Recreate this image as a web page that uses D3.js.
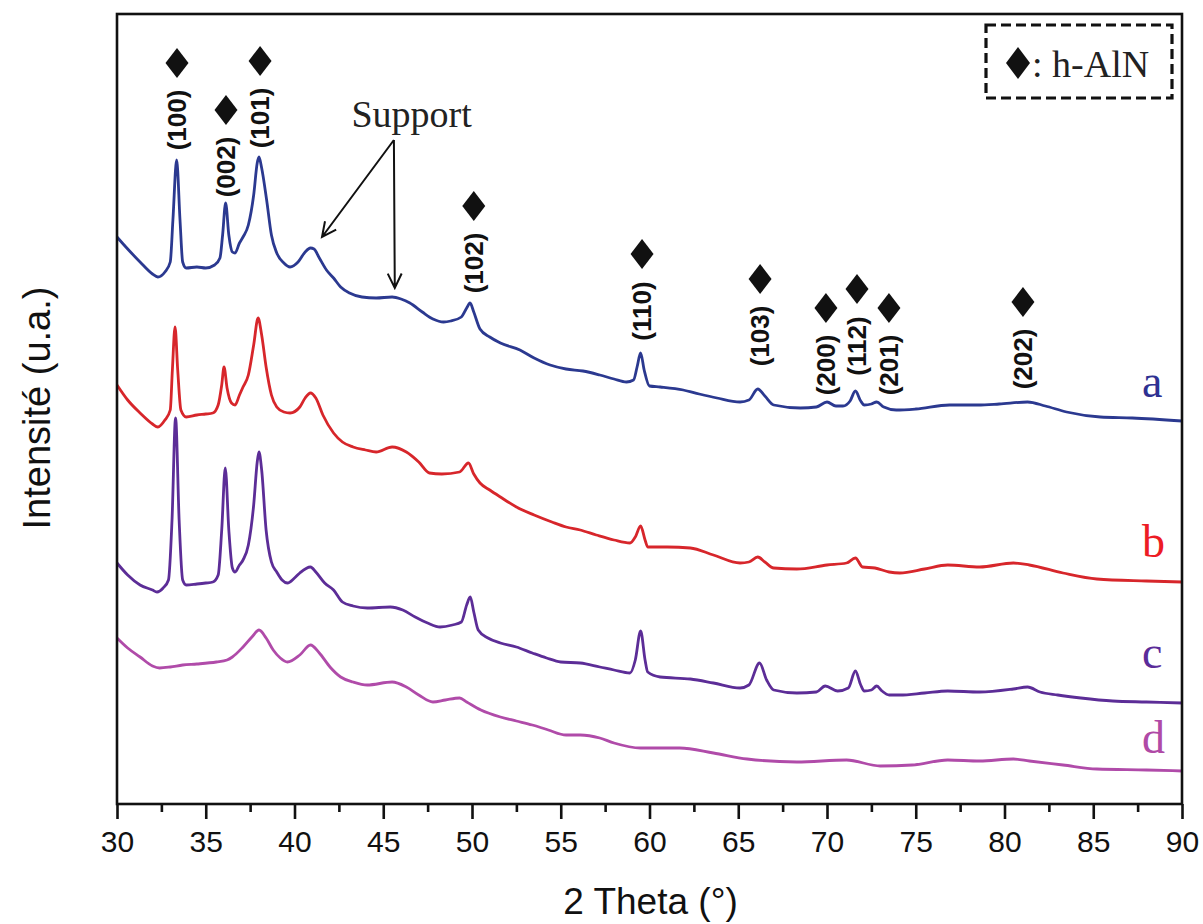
<!DOCTYPE html>
<html>
<head>
<meta charset="utf-8">
<script src="https://cdn.jsdelivr.net/npm/d3@7"></script>
<style>
  html, body { margin: 0; padding: 0; background: #fff; }
  svg { display: block; }
</style>
</head>
<body>
<svg id="chart" width="1203" height="924"></svg>
<script>
// ---------------- DATA (2θ in degrees, intensity in arbitrary units) ----------------
const xTicks = [30, 35, 40, 45, 50, 55, 60, 65, 70, 75, 80, 85, 90];
const xTitle = "2 Theta (°)";
const yTitle = "Intensité (u.a.)";

const seriesNames = ["a", "b", "c", "d"];

const seriesA = [
  [30.0,763],[30.5,753],[31.3,738],[32.0,726],[32.3,723],[32.7,728],[33.0,738],[33.15,780],[33.36,840],
  [33.55,780],[33.7,738],[33.9,732],[34.5,733],[35.0,732],[35.5,735],[35.8,742],[35.95,765],[36.12,797],
  [36.3,765],[36.5,748],[36.65,747],[36.9,757],[37.1,763],[37.4,775],[37.7,805],[37.9,837],[38.0,843],
  [38.15,832],[38.43,800],[38.7,765],[39.0,747],[39.4,737],[39.75,733],[40.2,738],[40.6,748],[40.9,752],
  [41.1,751],[41.4,742],[41.8,730],[42.2,722],[42.6,713],[43.1,707],[43.8,703],[44.6,702],[45.5,703],
  [46.0,701],[46.5,697],[47.2,688],[47.8,681],[48.4,678],[48.8,679],[49.4,683],[49.7,692],[49.89,697],
  [50.1,688],[50.45,671],[51.0,663],[51.6,657],[52.7,650],[53.5,642],[54.4,635],[55.3,631],[56.25,629],
  [57.2,625],[58.0,621],[58.7,618],[59.1,620],[59.3,633],[59.5,647],[59.7,630],[60.0,614],[60.6,613],
  [61.9,610],[62.8,606],[63.8,602],[65.1,598],[65.6,600],[66.1,611],[66.5,604],[67.0,595],[68.5,592],
  [69.4,593],[70.0,598],[70.5,594],[70.9,594],[71.3,599],[71.6,609],[71.9,599],[72.1,595],[72.5,596],
  [72.8,598],[73.2,593],[73.9,590],[75.0,591],[76.9,595],[78.5,595],[79.7,596],[81.3,598],[82.3,594],
  [83.5,588],[85.4,583],[87.2,582],[90.0,579]
];
const seriesB = [
  [30.0,615],[30.6,600],[31.3,587],[32.0,576],[32.3,573],[32.7,580],[33.0,590],[33.12,630],[33.27,673],
  [33.42,630],[33.6,590],[33.9,583],[34.5,585],[35.0,586],[35.4,587],[35.7,595],[35.9,615],[36.03,633],
  [36.2,612],[36.45,597],[36.65,595],[36.9,605],[37.1,613],[37.4,625],[37.7,655],[37.95,682],[38.15,665],
  [38.4,633],[38.7,605],[39.0,593],[39.4,588],[39.75,587],[40.3,593],[40.6,602],[40.9,607],[41.2,602],
  [41.6,585],[42.2,567],[42.7,558],[43.3,553],[44.0,550],[44.6,548],[45.5,553],[46.3,548],[47.0,538],
  [47.6,527],[48.3,526],[49.3,528],[49.8,537],[50.1,526],[50.45,517],[51.0,510],[51.6,503],[52.5,493],
  [53.5,485],[54.5,478],[55.3,473],[56.1,470],[57.0,465],[58.0,460],[58.9,457],[59.2,463],[59.5,474],
  [59.75,460],[59.9,453],[61.0,453],[62.3,452],[63.6,445],[65.1,437],[65.6,438],[66.1,443],[66.5,438],
  [67.0,432],[68.3,431],[70.0,435],[71.1,437],[71.6,442],[72.0,433],[72.7,432],[73.5,428],[74.1,427],
  [75.5,431],[76.8,435],[78.6,433],[80.5,437],[81.4,435],[83.3,427],[85.2,421],[88.0,419],[90.0,418]
];
const seriesC = [
  [30.0,437],[30.6,425],[31.3,415],[32.0,410],[32.25,408],[32.6,412],[32.9,420],[33.1,480],[33.3,582],
  [33.5,480],[33.7,420],[33.9,415],[34.5,416],[35.0,417],[35.4,418],[35.7,425],[35.9,470],[36.1,532],
  [36.3,470],[36.5,432],[36.65,428],[36.9,435],[37.1,440],[37.4,455],[37.7,495],[37.9,538],[38.0,548],
  [38.15,530],[38.4,470],[38.7,438],[39.0,428],[39.3,420],[39.6,417],[40.0,422],[40.3,427],[40.9,433],
  [41.2,428],[41.7,417],[42.2,410],[42.7,398],[43.3,394],[44.1,392],[45.4,393],[46.1,390],[46.8,383],
  [47.5,377],[48.2,373],[48.9,375],[49.4,378],[49.7,395],[49.9,403],[50.1,388],[50.35,370],[50.9,362],
  [51.6,357],[52.5,353],[53.4,347],[54.2,342],[55.0,338],[56.1,337],[57.2,333],[58.0,330],[58.9,327],
  [59.2,340],[59.5,369],[59.75,340],[59.9,328],[60.6,323],[62.3,321],[63.6,317],[65.1,312],[65.6,315],
  [66.2,337],[66.6,320],[67.0,310],[68.3,307],[69.4,308],[69.9,314],[70.6,309],[71.2,312],[71.6,329],
  [71.9,315],[72.1,309],[72.5,310],[72.8,314],[73.1,309],[73.5,305],[74.1,305],[75.5,307],[76.8,309],
  [78.6,308],[80.5,311],[81.3,313],[82.0,308],[83.0,305],[84.3,302],[86.1,299],[88.0,298],[90.0,297]
];
const seriesD = [
  [30.0,362],[30.6,352],[31.3,343],[32.0,334],[32.4,332],[33.0,333],[33.7,335],[34.5,336],[35.6,338],
  [36.2,340],[36.5,343],[37.1,353],[37.6,363],[38.0,370],[38.4,362],[38.8,350],[39.2,342],[39.6,338],
  [40.3,345],[40.9,355],[41.4,347],[42.0,333],[42.6,323],[43.3,318],[44.1,315],[45.5,318],[46.3,313],
  [47.0,305],[47.8,298],[48.5,300],[49.3,302],[49.7,298],[50.5,290],[51.6,283],[52.5,279],[53.4,275],
  [54.3,270],[55.3,265],[56.1,265],[57.2,262],[58.0,257],[59.5,252],[61.7,252],[63.6,247],[65.5,241],
  [68.3,238],[71.1,240],[73.0,234],[74.8,235],[76.8,240],[78.6,239],[80.5,241],[81.4,239],[83.3,235],
  [85.2,231],[88.0,230],[90.0,229]
];

// series label anchors (2θ, intensity)
const seriesLabelPos = [[87.75,603],[87.75,443],[87.75,332],[87.75,247]];

// h-AlN reflections
const hklLabels = ["(100)","(002)","(101)","(102)","(110)","(103)","(200)","(112)","(201)","(202)"];
const hklAngles = [33.38, 36.14, 38.06, 50.1, 59.58, 66.23, 69.94, 71.69, 73.49, 81.04];
const hklLevels = [880, 833, 882, 737, 689, 664, 635, 654, 635, 641];

// "Support" annotation
const supportText = "Support";
const supportTextPos = [46.6, 873];
const supportArrowFrom = [45.6, 860];
const supportArrowTo = [[41.55, 763], [45.65, 712]];

const legendText = ": h-AlN";

// ---------------- DRAWING ----------------
const plot = { left: 117, right: 1182, top: 14, bottom: 804 };
const svg = d3.select("#chart");

const x = d3.scaleLinear().domain([30, 90]).range([plot.left, plot.right]);
const y = d3.scaleLinear().domain([196, 986]).range([plot.bottom, plot.top]);

const colors = ["#2b3990", "#d7262b", "#5c2d97", "#b04ba9"];
const labelColors = ["#2e3192", "#ed1c24", "#5b2c99", "#b04aa6"];
const allSeries = [seriesA, seriesB, seriesC, seriesD];

const line = d3.line()
  .x(d => x(d[0]))
  .y(d => y(d[1]))
  .curve(d3.curveMonotoneX);

const g = svg.append("g");

allSeries.forEach((s, i) => {
  g.append("path")
    .datum(s)
    .attr("d", line)
    .attr("fill", "none")
    .attr("stroke", colors[i])
    .attr("stroke-width", 2.8)
    .attr("stroke-linejoin", "round");
});

// frame
svg.append("rect")
  .attr("x", plot.left).attr("y", plot.top)
  .attr("width", plot.right - plot.left).attr("height", plot.bottom - plot.top)
  .attr("fill", "none").attr("stroke", "#111").attr("stroke-width", 2.6);

// x axis (major + minor ticks)
const xAxis = d3.axisBottom(x).tickValues(xTicks).tickSize(15).tickPadding(12).tickFormat(d3.format("d"));
const ax = svg.append("g").attr("transform", `translate(0,${plot.bottom})`).call(xAxis);
ax.select(".domain").remove();
ax.selectAll(".tick line").attr("stroke", "#111").attr("stroke-width", 2.6);
ax.selectAll(".tick text")
  .attr("font-family", "'Liberation Sans', Arial, sans-serif")
  .attr("font-size", 30).attr("fill", "#111");

const minorTicks = d3.range(32.5, 90, 5);
const axMinor = svg.append("g").attr("transform", `translate(0,${plot.bottom})`)
  .call(d3.axisBottom(x).tickValues(minorTicks).tickSize(8).tickFormat(""));
axMinor.select(".domain").remove();
axMinor.selectAll(".tick line").attr("stroke", "#111").attr("stroke-width", 2.6);

// axis titles
svg.append("text")
  .attr("x", (plot.left + plot.right) / 2 + 1).attr("y", 914)
  .attr("text-anchor", "middle")
  .attr("font-family", "'Liberation Sans', Arial, sans-serif")
  .attr("font-size", 37).attr("fill", "#111")
  .text(xTitle);

svg.append("text")
  .attr("transform", `translate(50,408) rotate(-90)`)
  .attr("text-anchor", "middle")
  .attr("font-family", "'Liberation Sans', Arial, sans-serif")
  .attr("font-size", 38).attr("fill", "#111")
  .text(yTitle);

// series labels
seriesNames.forEach((n, i) => {
  svg.append("text")
    .attr("x", x(seriesLabelPos[i][0])).attr("y", y(seriesLabelPos[i][1]))
    .attr("font-family", "'Liberation Serif', 'Times New Roman', serif")
    .attr("font-size", 46).attr("fill", labelColors[i])
    .text(n);
});

// diamonds and hkl labels
const diamond = (cx, cy, w, h) => `M${cx},${cy - h/2}L${cx + w/2},${cy}L${cx},${cy + h/2}L${cx - w/2},${cy}Z`;
hklLabels.forEach((lab, i) => {
  const cx = x(hklAngles[i]);
  const cy = y(hklLevels[i]);
  svg.append("text")
    .attr("transform", `translate(${cx},${cy}) rotate(-90)`)
    .attr("text-anchor", "middle")
    .attr("dy", "0.36em")
    .attr("font-family", "'Liberation Sans', Arial, sans-serif")
    .attr("font-weight", "bold")
    .attr("font-size", 26).attr("fill", "#111")
    .text(lab);
  svg.append("path")
    .attr("d", diamond(cx, cy - 57, 23, 30))
    .attr("fill", "#111");
});

// Support annotation
svg.append("text")
  .attr("x", x(supportTextPos[0])).attr("y", y(supportTextPos[1]))
  .attr("text-anchor", "middle")
  .attr("font-family", "'Liberation Serif', 'Times New Roman', serif")
  .attr("font-size", 38).attr("fill", "#222")
  .text(supportText);

supportArrowTo.forEach(t => {
  const x0 = x(supportArrowFrom[0]), y0 = y(supportArrowFrom[1]);
  const x1 = x(t[0]), y1 = y(t[1]);
  const ang = Math.atan2(y1 - y0, x1 - x0);
  const L = 16, a = 0.45;
  const p1 = [x1 - L * Math.cos(ang - a), y1 - L * Math.sin(ang - a)];
  const p2 = [x1 - L * Math.cos(ang + a), y1 - L * Math.sin(ang + a)];
  svg.append("path")
    .attr("d", `M${x0},${y0}L${x1},${y1}M${p1[0]},${p1[1]}L${x1},${y1}L${p2[0]},${p2[1]}`)
    .attr("fill", "none").attr("stroke", "#111").attr("stroke-width", 2)
    .attr("stroke-linejoin", "miter");
});

// legend
const lg = svg.append("g");
lg.append("rect")
  .attr("x", 986).attr("y", 25).attr("width", 186).attr("height", 73)
  .attr("fill", "none").attr("stroke", "#111").attr("stroke-width", 3.2)
  .attr("stroke-dasharray", "10,5");
lg.append("path").attr("d", diamond(1018, 63, 24, 32)).attr("fill", "#111");
lg.append("text")
  .attr("x", 1032).attr("y", 77)
  .attr("font-family", "'Liberation Serif', 'Times New Roman', serif")
  .attr("font-size", 38).attr("fill", "#222")
  .text(legendText);
</script>
</body>
</html>
